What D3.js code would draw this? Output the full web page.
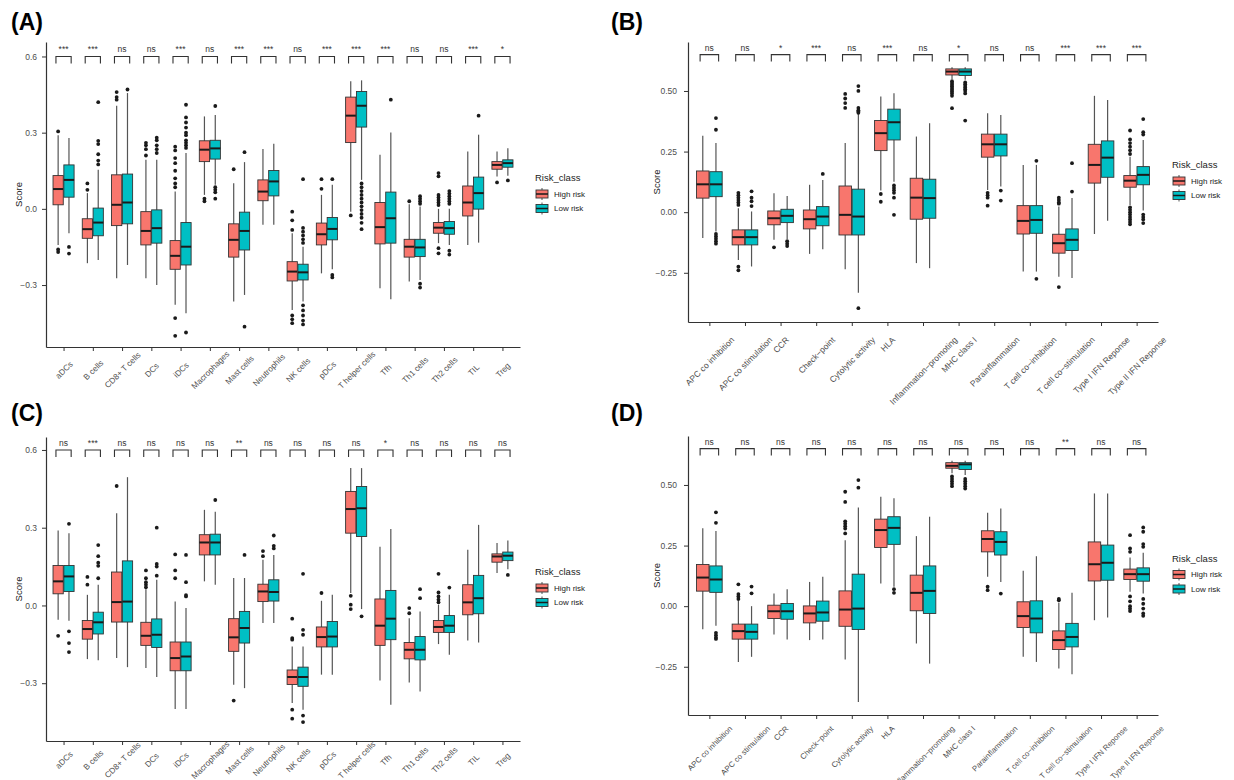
<!DOCTYPE html>
<html>
<head>
<meta charset="utf-8">
<script src="https://cdn.jsdelivr.net/npm/d3@7"></script>
<style>
  body { margin: 0; background: #fff; }
  svg text { font-family: "Liberation Sans", Arial, Helvetica, sans-serif; }
</style>
</head>
<body>
<svg id="chart" width="1234" height="780"></svg>
<script>
// ---- categories -------------------------------------------------------
const immuneCells = ["aDCs", "B cells", "CD8+ T cells", "DCs", "iDCs", "Macrophages",
  "Mast cells", "Neutrophils", "NK cells", "pDCs", "T helper cells", "Tfh",
  "Th1 cells", "Th2 cells", "TIL", "Treg"];
const immuneFunctions = ["APC co inhibition", "APC co stimulation", "CCR", "Check\u2212point",
  "Cytolytic activity", "HLA", "Inflammation\u2212promoting", "MHC class I",
  "Parainflammation", "T cell co\u2212inhibition", "T cell co\u2212stimulation",
  "Type I IFN Reponse", "Type II IFN Reponse"];
const riskGroups = ["High risk", "Low risk"];
const cellTicks = [0.6, 0.3, 0, -0.3];
const functionTicks = [0.5, 0.25, 0, -0.25];

// ---- box statistics: [lower whisker, Q1, median, Q3, upper whisker] ----
// (A) immune cells, training cohort
const aHigh = [
  [-0.142, 0.016, 0.078, 0.131, 0.29], [-0.214, -0.116, -0.080, -0.039, 0.062],
  [-0.273, -0.066, 0.016, 0.134, 0.406], [-0.273, -0.142, -0.087, -0.011, 0.193],
  [-0.378, -0.238, -0.185, -0.125, 0.068], [0.055, 0.186, 0.233, 0.268, 0.364],
  [-0.365, -0.19, -0.122, -0.059, 0.101], [-0.063, 0.032, 0.068, 0.114, 0.236],
  [-0.398, -0.284, -0.247, -0.208, -0.096], [-0.254, -0.142, -0.1, -0.056, 0.055],
  [-0.011, 0.261, 0.367, 0.44, 0.502], [-0.313, -0.138, -0.072, 0.025, 0.213],
  [-0.286, -0.19, -0.149, -0.12, 0.018], [-0.135, -0.096, -0.074, -0.054, 0.0],
  [-0.142, -0.028, 0.025, 0.09, 0.226], [0.127, 0.156, 0.173, 0.186, 0.226]];
const aLow = [
  [-0.096, 0.046, 0.114, 0.173, 0.279], [-0.201, -0.106, -0.054, 0.003, 0.154],
  [-0.221, -0.059, 0.025, 0.137, 0.456], [-0.3, -0.135, -0.076, -0.004, 0.193],
  [-0.411, -0.221, -0.149, -0.054, 0.22], [0.095, 0.196, 0.238, 0.27, 0.37],
  [-0.339, -0.162, -0.087, -0.013, 0.184], [-0.063, 0.051, 0.108, 0.151, 0.256],
  [-0.365, -0.28, -0.25, -0.218, -0.149], [-0.238, -0.122, -0.079, -0.034, 0.095],
  [0.114, 0.322, 0.406, 0.462, 0.506], [-0.356, -0.135, -0.037, 0.066, 0.301],
  [-0.28, -0.188, -0.152, -0.12, 0.009], [-0.142, -0.1, -0.076, -0.05, 0.0],
  [-0.133, -0.001, 0.062, 0.125, 0.292], [0.13, 0.164, 0.18, 0.193, 0.239]];
const aHighOut = [
  [0.305, -0.16, -0.17], [0.10, 0.075], [0.46, 0.44, 0.43], [0.26, 0.25, 0.235, 0.21],
  [0.245, 0.23, 0.2, 0.18, 0.15, 0.12, 0.1, 0.085, -0.43, -0.5], [0.04, 0.03], [0.156], [],
  [-0.011, -0.045, -0.083, -0.42, -0.435, -0.45], [0.117, 0.079], [-0.026], [], [0.03],
  [0.141, 0.128, 0.055, 0.045, 0.035, 0.025, 0.015, -0.155, -0.175], [], [0.104]];
const aLowOut = [
  [-0.15, -0.176], [0.175, 0.19, 0.215, 0.255, 0.268, 0.42], [0.47], [0.28, 0.27, 0.25, 0.235, 0.22],
  [0.41, 0.36, 0.34, 0.32, 0.3, 0.29, 0.27, 0.26, 0.25, 0.24, -0.487], [0.405, 0.085, 0.075, 0.065, 0.04],
  [0.223, -0.464], [],
  [0.117, -0.075, -0.09, -0.105, -0.12, -0.134, -0.38, -0.4, -0.42, -0.44, -0.455], [0.117, -0.26, -0.27],
  [0.1, 0.085, 0.07, 0.055, 0.04, 0.025, 0.01, -0.005, -0.02, -0.035, -0.055, -0.08], [0.43],
  [0.05, 0.04, 0.03, 0.02, -0.295, -0.31], [0.07, 0.06, 0.05, 0.04, 0.03, 0.02, -0.165, -0.18],
  [0.367], [0.112]];
const aSig = ["***", "***", "ns", "ns", "***", "ns", "***", "***", "ns", "***", "***", "***", "ns", "ns", "***", "*"];

// (B) immune functions, training cohort
const bHigh = [
  [-0.107, 0.058, 0.115, 0.17, 0.315], [-0.197, -0.135, -0.103, -0.073, 0.016],
  [-0.114, -0.052, -0.025, 0.005, 0.078], [-0.172, -0.069, -0.029, 0.009, 0.113],
  [-0.235, -0.094, -0.011, 0.108, 0.285], [0.089, 0.254, 0.326, 0.378, 0.477],
  [-0.21, -0.029, 0.06, 0.14, 0.312], [0.549, 0.566, 0.58, 0.591, 0.598],
  [0.092, 0.227, 0.28, 0.322, 0.408], [-0.245, -0.09, -0.036, 0.027, 0.195],
  [-0.266, -0.169, -0.128, -0.091, 0.023], [-0.09, 0.12, 0.195, 0.28, 0.48],
  [0.03, 0.103, 0.13, 0.151, 0.229]];
const bLow = [
  [-0.08, 0.064, 0.115, 0.167, 0.285], [-0.224, -0.135, -0.103, -0.073, 0.003],
  [-0.111, -0.043, -0.015, 0.012, 0.067], [-0.153, -0.056, -0.018, 0.023, 0.133],
  [-0.332, -0.094, -0.018, 0.095, 0.408], [0.126, 0.298, 0.371, 0.425, 0.491],
  [-0.231, -0.025, 0.058, 0.136, 0.367], [0.546, 0.564, 0.58, 0.591, 0.598],
  [0.106, 0.232, 0.28, 0.322, 0.401], [-0.245, -0.087, -0.032, 0.027, 0.195],
  [-0.272, -0.158, -0.114, -0.069, 0.058], [-0.035, 0.144, 0.225, 0.294, 0.463],
  [0.007, 0.113, 0.154, 0.188, 0.298]];
const bHighOut = [
  [], [0.08, 0.07, 0.06, 0.05, 0.04, 0.03, -0.225, -0.24], [-0.145], [],
  [0.488, 0.469, 0.45, 0.43], [0.075, 0.043], [],
  [0.54, 0.533, 0.526, 0.519, 0.512, 0.505, 0.498, 0.49, 0.48, 0.429],
  [0.08, 0.07, 0.06, 0.027], [], [0.06, 0.05, 0.04, 0.035, -0.309], [],
  [0.337, 0.3, 0.285, 0.27, 0.255, 0.24, 0.02, 0.01, 0.0, -0.01, -0.02, -0.03, -0.04, -0.05]];
const bLowOut = [
  [0.388, 0.34, -0.09, -0.1, -0.11, -0.12, -0.13], [0.086, 0.06, 0.045, 0.025],
  [-0.12, -0.13, -0.14], [0.158], [0.52, 0.5, 0.43, 0.42, 0.415, 0.41, -0.396],
  [0.11, 0.1, 0.09, 0.08, 0.06, -0.011], [],
  [0.535, 0.528, 0.521, 0.514, 0.507, 0.5, 0.49, 0.378], [0.089, 0.048],
  [0.212, -0.275], [0.085, 0.202], [], [0.384, 0.33, 0.32, -0.01, -0.02, -0.03, -0.045]];
const bSig = ["ns", "ns", "*", "***", "ns", "***", "ns", "*", "ns", "ns", "***", "***", "***"];

// (C) immune cells, validation cohort
const cHigh = [
  [-0.055, 0.045, 0.093, 0.154, 0.289], [-0.207, -0.13, -0.091, -0.058, 0.041],
  [-0.203, -0.064, 0.013, 0.129, 0.356], [-0.241, -0.154, -0.117, -0.065, 0.063],
  [-0.4, -0.252, -0.203, -0.141, 0.015], [0.093, 0.195, 0.243, 0.273, 0.369],
  [-0.306, -0.177, -0.123, -0.051, 0.106], [-0.068, 0.015, 0.054, 0.082, 0.176],
  [-0.376, -0.305, -0.276, -0.249, -0.158], [-0.267, -0.16, -0.122, -0.083, 0.018],
  [0.048, 0.279, 0.372, 0.44, 0.53], [-0.29, -0.154, -0.078, 0.025, 0.227],
  [-0.297, -0.206, -0.171, -0.143, -0.049], [-0.149, -0.104, -0.083, -0.058, 0.003],
  [-0.135, -0.036, 0.012, 0.08, 0.215], [0.125, 0.167, 0.189, 0.199, 0.241]];
const cLow = [
  [-0.059, 0.054, 0.112, 0.154, 0.279], [-0.211, -0.11, -0.065, -0.026, 0.08],
  [-0.238, -0.064, 0.015, 0.172, 0.495], [-0.276, -0.162, -0.113, -0.052, 0.099],
  [-0.4, -0.252, -0.197, -0.141, -0.01], [0.08, 0.195, 0.243, 0.275, 0.362],
  [-0.319, -0.145, -0.087, -0.023, 0.106], [-0.068, 0.017, 0.052, 0.099, 0.195],
  [-0.402, -0.312, -0.276, -0.238, -0.158], [-0.267, -0.16, -0.12, -0.062, 0.041],
  [-0.014, 0.266, 0.375, 0.459, 0.53], [-0.383, -0.132, -0.051, 0.058, 0.295],
  [-0.332, -0.21, -0.171, -0.12, -0.023], [-0.19, -0.104, -0.078, -0.039, 0.041],
  [-0.143, -0.032, 0.028, 0.116, 0.311], [0.14, 0.173, 0.192, 0.206, 0.251]];
const cHighOut = [
  [-0.117], [0.11, 0.08], [0.461], [0.135, 0.105, 0.09, 0.08, 0.07], [0.197, 0.135, 0.105],
  [], [-0.367], [0.21, 0.19], [-0.051, -0.126, -0.132, -0.402, -0.437], [0.048],
  [0.037, 0.003, -0.014], [], [-0.01, -0.03], [0.122, 0.05, 0.035, 0.022, 0.012], [], []];
const cLowOut = [
  [0.315, -0.1, -0.145, -0.18], [0.233, 0.19, 0.165, 0.153, 0.105], [], [0.3, 0.16, 0.15, 0.115],
  [0.195, 0.09, 0.04, 0.035], [0.407], [0.195], [0.27, 0.23, 0.22],
  [0.122, -0.094, -0.113, -0.425, -0.45], [], [-0.042], [], [0.063, 0.028], [0.069], [], [0.118]];
const cSig = ["ns", "***", "ns", "ns", "ns", "ns", "**", "ns", "ns", "ns", "ns", "*", "ns", "ns", "ns", "ns"];

// (D) immune functions, validation cohort
const dHigh = [
  [-0.095, 0.062, 0.118, 0.172, 0.321], [-0.23, -0.136, -0.103, -0.074, 0.025],
  [-0.117, -0.051, -0.021, 0.004, 0.052], [-0.14, -0.069, -0.03, 0.001, 0.1],
  [-0.22, -0.083, -0.014, 0.063, 0.272], [0.094, 0.242, 0.314, 0.359, 0.451],
  [-0.154, -0.019, 0.055, 0.128, 0.289], [0.548, 0.569, 0.579, 0.592, 0.6],
  [0.121, 0.224, 0.277, 0.311, 0.385], [-0.209, -0.088, -0.041, 0.018, 0.146],
  [-0.257, -0.179, -0.14, -0.102, 0.014], [-0.058, 0.104, 0.173, 0.265, 0.465],
  [0.059, 0.11, 0.132, 0.153, 0.201]];
const dLow = [
  [-0.081, 0.057, 0.11, 0.166, 0.31], [-0.209, -0.136, -0.106, -0.074, 0.0],
  [-0.138, -0.054, -0.021, 0.011, 0.07], [-0.138, -0.062, -0.026, 0.021, 0.121],
  [-0.395, -0.096, -0.01, 0.132, 0.407], [0.08, 0.255, 0.323, 0.369, 0.445],
  [-0.237, -0.03, 0.063, 0.166, 0.369], [0.541, 0.564, 0.585, 0.592, 0.6],
  [0.1, 0.211, 0.265, 0.307, 0.403], [-0.23, -0.11, -0.051, 0.022, 0.206],
  [-0.281, -0.168, -0.127, -0.071, 0.055], [-0.047, 0.107, 0.179, 0.252, 0.465],
  [0.052, 0.103, 0.132, 0.158, 0.22]];
const dHighOut = [
  [], [0.09, 0.05, 0.04, 0.03], [], [], [0.472, 0.43, 0.35, 0.34, 0.33, 0.32, 0.3], [], [],
  [0.535, 0.525, 0.515, 0.505, 0.495], [0.08, 0.066], [], [0.03, 0.024], [],
  [0.293, 0.238, 0.224, 0.04, 0.02, 0.0, -0.01, -0.02]];
const dLowOut = [
  [0.387, 0.344, -0.11, -0.12, -0.13, -0.135], [0.081, 0.053], [], [], [0.52, 0.489],
  [0.07, 0.055], [], [0.525, 0.515, 0.505, 0.495, 0.485], [0.052], [], [], [],
  [0.325, 0.307, 0.256, 0.245, 0.03, 0.01, -0.01, -0.03, -0.04]];
const dSig = ["ns", "ns", "ns", "ns", "ns", "ns", "ns", "ns", "ns", "ns", "**", "ns", "ns"];

// ---- styling ----------------------------------------------------------
const fills = ["#F8766D", "#00BFC4"];
const lineColor = "#333333";
const textGray = "#4d4d4d";

// ---- panel layout -----------------------------------------------------
// labelMode "centre": every category label centred at a fixed drop below the axis;
// labelMode "top": every label hangs from a fixed line below the axis.
const panels = [
  { tag: "(A)", tagX: 11, tagY: 30, cats: immuneCells, stats: [aHigh, aLow], outs: [aHighOut, aLowOut],
    sig: aSig, ticks: cellTicks, fmt: ".1f", x0: 46, x1: 520, y0: 42, y1: 347,
    domain: [-0.544, 0.657], bracket: 0.6, legX: 535, legY: 181, titleX: 19, tickPad: 5,
    labelMode: "centre", labelDrop: 23, labelSize: 8.2 },
  { tag: "(B)", tagX: 611, tagY: 30, cats: immuneFunctions, stats: [bHigh, bLow], outs: [bHighOut, bLowOut],
    sig: bSig, ticks: functionTicks, fmt: ".2f", x0: 688, x1: 1158, y0: 42, y1: 322,
    domain: [-0.453, 0.702], bracket: 0.65, legX: 1172, legY: 168, titleX: 657, tickPad: 7,
    labelMode: "top", labelDrop: 14, labelSize: 8.5 },
  { tag: "(C)", tagX: 11, tagY: 421, cats: immuneCells, stats: [cHigh, cLow], outs: [cHighOut, cLowOut],
    sig: cSig, ticks: cellTicks, fmt: ".1f", x0: 46, x1: 520, y0: 437, y1: 741,
    domain: [-0.523, 0.65], bracket: 0.6, legX: 535, legY: 575, titleX: 19, tickPad: 5,
    labelMode: "centre", labelDrop: 19, labelSize: 8.2 },
  { tag: "(D)", tagX: 611, tagY: 421, cats: immuneFunctions, stats: [dHigh, dLow], outs: [dHighOut, dLowOut],
    sig: dSig, ticks: functionTicks, fmt: ".2f", x0: 688, x1: 1158, y0: 436, y1: 715,
    domain: [-0.449, 0.702], bracket: 0.65, legX: 1172, legY: 561.5, titleX: 657, tickPad: 7,
    labelMode: "top", labelDrop: 10, labelSize: 7.8 }
];

const svg = d3.select("#chart");

function drawPanel(p) {
  const g = svg.append("g");
  const x = d3.scalePoint().domain(p.cats).range([p.x0, p.x1]).padding(0.6);
  const y = d3.scaleLinear().domain(p.domain).range([p.y1, p.y0]);
  const step = x.step();
  const boxW = step * 0.35;
  const dodge = step * 0.185;

  // panel tag
  g.append("text").attr("x", p.tagX).attr("y", p.tagY)
    .attr("font-size", 23).attr("font-weight", "bold").attr("fill", "#000").text(p.tag);

  // y axis
  const yAxis = g.append("g").attr("transform", `translate(${p.x0},0)`)
    .call(d3.axisLeft(y).tickValues(p.ticks).tickFormat(d3.format(p.fmt))
      .tickSize(4).tickSizeOuter(0).tickPadding(p.tickPad));
  // x axis
  const xAxis = g.append("g").attr("transform", `translate(0,${p.y1})`)
    .call(d3.axisBottom(x).tickSize(4).tickSizeOuter(0));
  [yAxis, xAxis].forEach(ax => {
    ax.select(".domain").attr("stroke", lineColor).attr("stroke-width", 1.2);
    ax.selectAll(".tick line").attr("stroke", lineColor).attr("stroke-width", 1);
    ax.selectAll(".tick text").attr("fill", textGray).attr("font-size", 8.5)
      .attr("font-family", "'Liberation Sans', Arial, sans-serif");
  });
  // category labels, turned 45 degrees and centred on their ticks
  xAxis.selectAll(".tick text")
    .attr("x", 0).attr("y", 0).attr("dy", "0.35em")
    .attr("text-anchor", "middle").attr("font-size", p.labelSize).attr("fill", "#4d4d4d")
    .attr("opacity", 0.99)
    .attr("transform", function () {
      let drop = p.labelDrop;
      if (p.labelMode === "top") {
        const len = this.getComputedTextLength();
        drop = p.labelDrop + 0.3536 * (len + p.labelSize * 0.8);
      }
      return `translate(0,${drop}) rotate(-45)`;
    });

  // y title
  g.append("text")
    .attr("transform", `translate(${p.titleX},${(p.y0 + p.y1) / 2}) rotate(-90)`)
    .attr("text-anchor", "middle").attr("dy", "0.35em")
    .attr("font-size", 9.5).attr("fill", "#222").text("Score");

  // boxes
  p.cats.forEach((cat, i) => {
    [0, 1].forEach(gi => {
      const s = p.stats[gi][i];
      const cx = x(cat) + (gi === 0 ? -dodge : dodge);
      const bg = g.append("g");
      bg.append("line").attr("x1", cx).attr("x2", cx)
        .attr("y1", y(s[0])).attr("y2", y(s[4]))
        .attr("stroke", "#555").attr("stroke-width", 1.2);
      bg.append("rect").attr("x", cx - boxW / 2).attr("width", boxW)
        .attr("y", y(s[3])).attr("height", y(s[1]) - y(s[3]))
        .attr("fill", fills[gi]).attr("stroke", lineColor).attr("stroke-width", 0.9);
      bg.append("line").attr("x1", cx - boxW / 2).attr("x2", cx + boxW / 2)
        .attr("y1", y(s[2])).attr("y2", y(s[2]))
        .attr("stroke", "#1a1a1a").attr("stroke-width", 2);
      bg.selectAll("circle").data(p.outs[gi][i]).join("circle")
        .attr("cx", cx).attr("cy", d => y(d)).attr("r", 1.9).attr("fill", "#1a1a1a");
    });
  });

  // significance brackets
  const half = step * 0.26;
  p.cats.forEach((cat, i) => {
    const cx = x(cat), by = y(p.bracket);
    g.append("path")
      .attr("d", `M${cx - half},${by + 7}V${by}H${cx + half}V${by + 7}`)
      .attr("fill", "none").attr("stroke", lineColor).attr("stroke-width", 1.1);
    g.append("text").attr("x", cx).attr("y", by - 4)
      .attr("text-anchor", "middle").attr("font-size", 8.5).attr("fill", "#333")
      .text(p.sig[i]);
  });

  // legend
  const lg = g.append("g");
  lg.append("text").attr("x", p.legX).attr("y", p.legY)
    .attr("font-size", 9.5).attr("fill", "#222").text("Risk_class");
  riskGroups.forEach((name, gi) => {
    const ky = p.legY + 13 + gi * 14.5;
    const kx = p.legX + 7;
    lg.append("line").attr("x1", kx).attr("x2", kx).attr("y1", ky - 6).attr("y2", ky + 6)
      .attr("stroke", "#555").attr("stroke-width", 1);
    lg.append("rect").attr("x", kx - 6).attr("width", 12).attr("y", ky - 4).attr("height", 8)
      .attr("fill", fills[gi]).attr("stroke", lineColor).attr("stroke-width", 0.9);
    lg.append("line").attr("x1", kx - 6).attr("x2", kx + 6).attr("y1", ky).attr("y2", ky)
      .attr("stroke", "#1a1a1a").attr("stroke-width", 1.5);
    lg.append("text").attr("x", p.legX + 19).attr("y", ky).attr("dy", "0.35em")
      .attr("font-size", 8).attr("fill", "#222").text(name);
  });
}

panels.forEach(drawPanel);
</script>
</body>
</html>
